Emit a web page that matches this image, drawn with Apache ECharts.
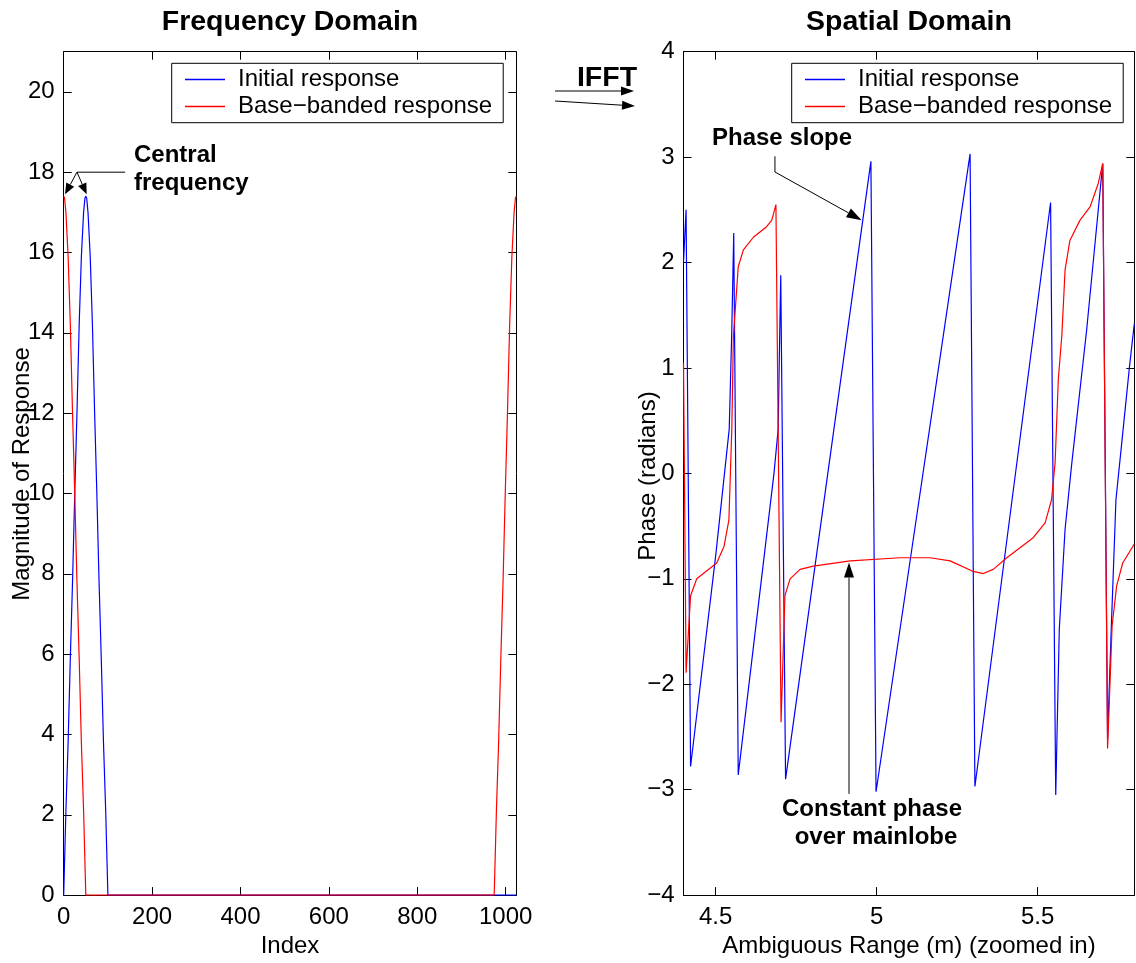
<!DOCTYPE html>
<html><head><meta charset="utf-8">
<script src="https://cdn.jsdelivr.net/npm/echarts@6/dist/echarts.min.js"></script>
<style>html,body{margin:0;padding:0;background:#fff}#c{width:1136px;height:963px}</style>
</head><body><div id="c"></div>
<script>
const FONT = '"Liberation Sans", Arial, Helvetica, sans-serif';

// ---- Frequency domain (left) ----
const initialIndex = [0,5,10,15,20,25,30,35,40,45,48,50,52,55,60,65,70,75,80,85,90,95,100,1024];
const initialMagnitude = [0,2.1,3.8,5.9,7.8,10.0,12.0,14.2,15.9,17.0,17.35,17.4,17.35,17.0,15.9,14.2,12.0,10.0,7.8,5.9,3.8,2.1,0,0];
const basebandIndex = [0,2,5,10,15,20,25,30,35,40,45,50,974,979,984,989,994,999,1004,1009,1014,1019,1022,1024];
const basebandMagnitude = [17.4,17.35,17.0,15.9,14.2,12.0,10.0,7.8,5.9,3.8,2.1,0,0,2.1,3.8,5.9,7.8,10.0,12.0,14.2,15.9,17.0,17.35,17.4];
const freqXTicks = [0,200,400,600,800,1000];
const freqYTicks = [0,2,4,6,8,10,12,14,16,18,20];

// ---- Spatial domain (right) ----
const initialRange = [4.400,4.408,4.422,4.500,4.542,4.550,4.556,4.570,4.681,4.694,4.699,4.702,4.717,4.982,4.998,5.290,5.305,5.540,5.556,5.567,5.585,5.606,5.652,5.702,5.717,5.728,5.743,5.764,5.785,5.800];
const initialPhase = [2.00,2.50,-2.78,-0.78,0.42,1.36,2.28,-2.86,0.00,0.42,1.36,1.88,-2.90,2.96,-3.02,3.03,-2.97,2.57,-3.05,-1.48,-0.53,0.10,1.36,2.94,-2.52,-1.51,-0.25,0.38,1.01,1.42];
const basebandRange = [4.400,4.408,4.422,4.441,4.503,4.526,4.541,4.550,4.555,4.570,4.586,4.617,4.658,4.674,4.687,4.703,4.715,4.731,4.762,4.803,4.918,5.072,5.166,5.228,5.300,5.331,5.362,5.404,5.486,5.523,5.543,5.554,5.564,5.575,5.585,5.600,5.631,5.663,5.688,5.702,5.717,5.731,5.745,5.764,5.800];
const basebandPhase = [1.05,-1.89,-1.16,-1.00,-0.85,-0.69,-0.44,0.42,1.30,1.96,2.12,2.24,2.34,2.40,2.55,-2.36,-1.16,-1.00,-0.91,-0.88,-0.83,-0.80,-0.80,-0.83,-0.93,-0.95,-0.91,-0.80,-0.61,-0.47,-0.25,0.10,0.89,1.31,1.93,2.21,2.40,2.53,2.75,2.94,-2.61,-1.45,-1.07,-0.85,-0.67];
const spatialXTicks = [4.5,5,5.5];
const spatialYTicks = [-4,-3,-2,-1,0,1,2,3,4];

// ---- Annotation anchors (data coordinates) ----
const centralApex = [30, 18];
const centralTail = [139, 18];
const centralTips = [[3, 17.45], [52, 17.45]];
const phaseSlopeKnee = [[4.684, 3.008], [4.684, 2.859]];
const phaseSlopeTip = [4.953, 2.402];
const constantTail = [4.914, -3.04];
const constantTip = [4.914, -0.846];

const zip = (a, b) => a.map((v, i) => [v, b[i]]);
const minus = v => String(v).replace('-', '\u2212');
const NAMES = ['Initial response', 'Base\u2212banded response'];
const BLUE = '#0000ff', RED = '#ff0000';
const FS = 24;

function xAx(g, min, max, ticks, pos, name) {
  const main = pos === 'bottom';
  return {
    type: 'value', gridIndex: g, min, max, position: pos,
    axisLine: {show: true, onZero: false, lineStyle: {color: '#000', width: 1}},
    axisTick: {show: true, inside: true, length: 8, customValues: ticks, lineStyle: {color: '#000'}},
    axisLabel: {show: main, customValues: ticks, margin: 10, color: '#000', fontSize: FS, fontFamily: FONT, formatter: minus},
    splitLine: {show: false},
    name: main ? name : '', nameLocation: 'middle', nameGap: 33,
    nameTextStyle: {color: '#000', fontSize: FS, fontFamily: FONT}
  };
}
function yAx(g, min, max, ticks, pos) {
  const main = pos === 'left';
  return {
    type: 'value', gridIndex: g, min, max, position: pos,
    axisLine: {show: true, onZero: false, lineStyle: {color: '#000', width: 1}},
    axisTick: {show: true, inside: true, length: 8, customValues: ticks, lineStyle: {color: '#000'}},
    axisLabel: {show: main, customValues: ticks, margin: 9, color: '#000', fontSize: FS, fontFamily: FONT, formatter: minus},
    splitLine: {show: false}
  };
}
function legendAt(left) {
  return {
    data: NAMES.map(n => ({name: n, icon: 'rect'})), orient: 'vertical', left, top: 63.3,
    itemWidth: 40, itemHeight: 1.4, itemGap: 0,
    padding: [2.7, 11, 2.7, 13.3],
    borderColor: '#000', borderWidth: 1, borderRadius: 0, backgroundColor: '#fff',
    selectedMode: false,
    textStyle: {color: '#000', fontSize: FS, fontFamily: FONT, lineHeight: 27, padding: [0, 0, 0, 8]}
  };
}
function line(name, x, y, g, color) {
  return {
    type: 'line', name, xAxisIndex: g * 2, yAxisIndex: g * 2,
    data: zip(x, y), symbol: 'none', showSymbol: false, clip: true,
    lineStyle: {color, width: 1.2}, itemStyle: {color}, silent: true
  };
}

const chart = echarts.init(document.getElementById('c'), null, {renderer: 'canvas'});
chart.setOption({
  animation: false,
  backgroundColor: '#fff',
  grid: [
    {left: 63.7, top: 51.7, width: 452.6, height: 845},
    {left: 683.5, top: 51.7, width: 450.8, height: 845}
  ],
  xAxis: [
    xAx(0, 0, 1024, freqXTicks, 'bottom', 'Index'),
    xAx(0, 0, 1024, freqXTicks, 'top', ''),
    xAx(1, 4.4, 5.8, spatialXTicks, 'bottom', 'Ambiguous Range (m) (zoomed in)'),
    xAx(1, 4.4, 5.8, spatialXTicks, 'top', '')
  ],
  yAxis: [
    yAx(0, 0, 21, freqYTicks, 'left'),
    yAx(0, 0, 21, freqYTicks, 'right'),
    yAx(1, -4, 4, spatialYTicks, 'left'),
    yAx(1, -4, 4, spatialYTicks, 'right')
  ],
  legend: [legendAt(171.7), legendAt(791.7)],
  series: [
    line(NAMES[0], initialIndex, initialMagnitude, 0, BLUE),
    line(NAMES[1], basebandIndex, basebandMagnitude, 0, RED),
    line(NAMES[0], initialRange, initialPhase, 1, BLUE),
    line(NAMES[1], basebandRange, basebandPhase, 1, RED)
  ]
});

// ---- annotations ----
const P = (g, p) => chart.convertToPixel({gridIndex: g}, p);
function seg(a, b) {
  return {type: 'line', silent: true, z: 50, shape: {x1: a[0], y1: a[1], x2: b[0], y2: b[1]}, style: {stroke: '#000', lineWidth: 1}};
}
function arrow(a, b, len, w) {
  const dx = b[0] - a[0], dy = b[1] - a[1], L = Math.hypot(dx, dy);
  const ux = dx / L, uy = dy / L, nx = -uy, ny = ux;
  const bx = b[0] - ux * len, by = b[1] - uy * len;
  return [
    seg(a, [bx, by]),
    {type: 'polygon', silent: true, z: 50, shape: {points: [[b[0], b[1]], [bx + nx * w / 2, by + ny * w / 2], [bx - nx * w / 2, by - ny * w / 2]]}, style: {fill: '#000'}}
  ];
}
function txt(text, x, y, size, bold, align, rot) {
  return {type: 'text', silent: true, z: 60, x, y, rotation: rot || 0, style: {
    text, x: 0, y: 0, fill: '#000', font: (bold ? 'bold ' : '') + size + 'px ' + FONT,
    textAlign: align || 'left', textVerticalAlign: 'middle', align: align || 'left', verticalAlign: 'middle'}};
}

const g = [];
g.push(txt('Frequency Domain', 290, 22, 28.5, true, 'center'));
g.push(txt('Spatial Domain', 909, 22, 28.5, true, 'center'));
g.push(txt('Magnitude of Response', 22, 474, FS, false, 'center', Math.PI / 2));
g.push(txt('Phase (radians)', 648, 476, FS, false, 'center', Math.PI / 2));
g.push(txt('IFFT', 607, 78, 28.5, true, 'center'));
g.push(...arrow([555, 91], [634, 91], 13, 9));
g.push(...arrow([555, 101], [635, 106], 13, 9));

const cA = P(0, centralApex);
g.push(seg(cA, P(0, centralTail)));
centralTips.forEach(t => g.push(...arrow(cA, P(0, t), 11, 9)));
g.push(txt('Central', 134, 155, FS, true));
g.push(txt('frequency', 134, 183, FS, true));

const k0 = P(1, phaseSlopeKnee[0]), k1 = P(1, phaseSlopeKnee[1]);
g.push(seg(k0, k1));
g.push(...arrow(k1, P(1, phaseSlopeTip), 15, 10));
g.push(txt('Phase slope', 712, 138, FS, true));

g.push(...arrow(P(1, constantTail), P(1, constantTip), 15, 10));
g.push(txt('Constant phase', 872, 809, FS, true, 'center'));
g.push(txt('over mainlobe', 876, 837, FS, true, 'center'));

chart.setOption({graphic: g});
</script>
</body></html>
